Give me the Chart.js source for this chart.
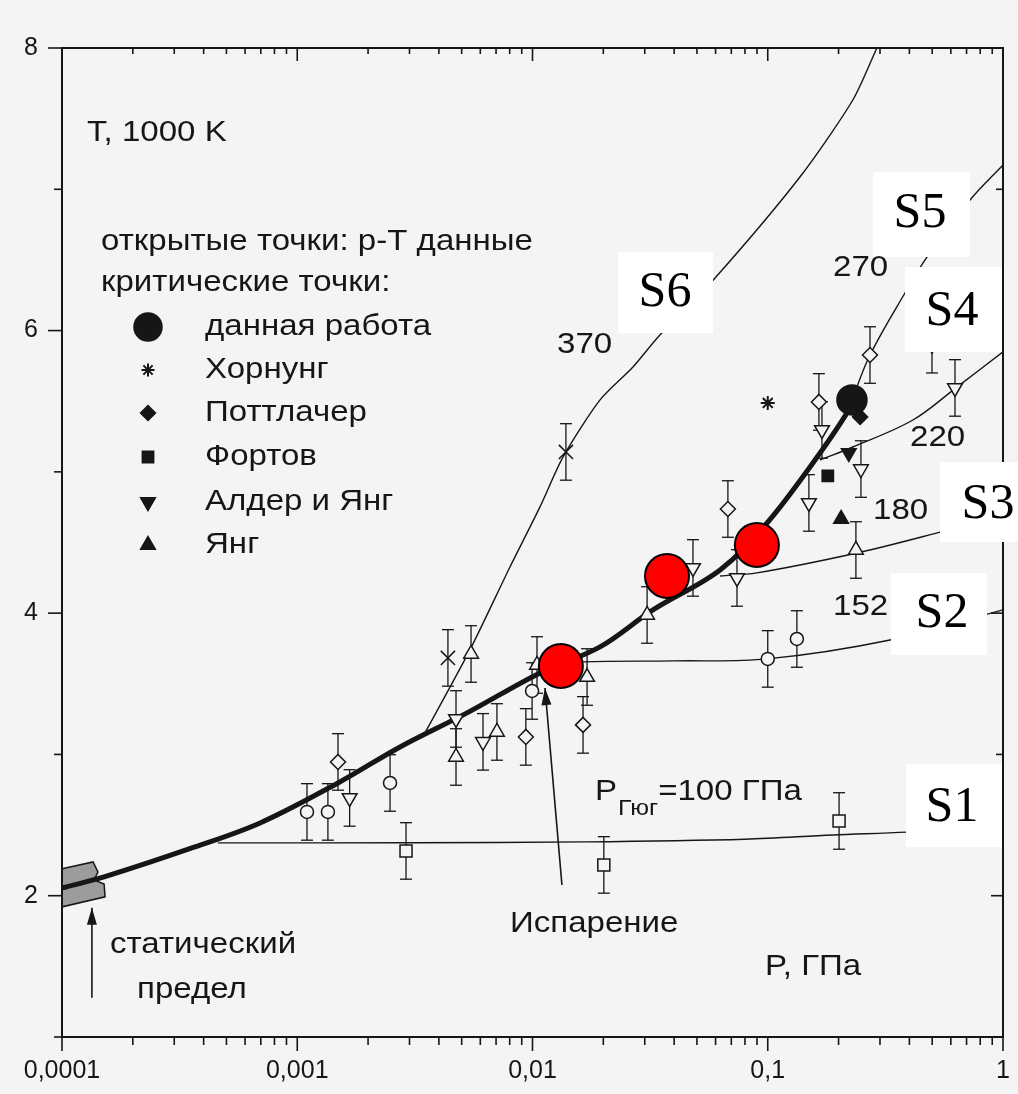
<!DOCTYPE html>
<html>
<head>
<meta charset="utf-8">
<script src="https://cdn.jsdelivr.net/npm/chart.js@4.4.1/dist/chart.umd.min.js"></script>
<style>
  html, body { margin: 0; padding: 0; background: #f4f4f4; }
  #wrap { width: 1018px; height: 1094px; }
</style>
</head>
<body>
<div id="wrap"><canvas id="chart" width="1018" height="1094"></canvas></div>
<script>
// axes
const xMajor = [0.0001, 0.001, 0.01, 0.1, 1];
const xTickLabels = ['0,0001', '0,001', '0,01', '0,1', '1'];
const yTickValues = [1, 2, 3, 4, 5, 6, 7, 8];
const yTickLabels = ['', '2', '', '4', '', '6', '', '8'];

// thick curve (binodal)
const mainP = [0.0001, 0.000151, 0.000367, 0.000695, 0.00149, 0.002735, 0.00527, 0.01076, 0.01937, 0.0325, 0.0627, 0.0993, 0.1556, 0.2173, 0.228];
const mainT = [2.055, 2.133, 2.345, 2.515, 2.798, 3.053, 3.294, 3.577, 3.761, 4.023, 4.306, 4.638, 5.063, 5.417, 5.509];

// isentropes S1..S6
const s1P = [0.00046, 0.003, 0.0166, 0.08, 0.189, 0.391, 1];
const s1T = [2.374, 2.375, 2.381, 2.40, 2.43, 2.45, 2.49];
const s2P = [0.01164, 0.0164, 0.04, 0.0993, 0.331, 1];
const s2T = [3.626, 3.655, 3.662, 3.676, 3.81, 4.023];
const s3P = [0.0627, 0.0899, 0.2393, 0.525, 1];
const s3T = [4.263, 4.285, 4.426, 4.568, 4.695];
const s4P = [0.1667, 0.230, 0.414, 0.637, 1];
const s4T = [5.084, 5.176, 5.367, 5.60, 5.849];
const s5P = [0.228, 0.272, 0.383, 0.475, 0.724, 1];
const s5T = [5.509, 5.827, 6.266, 6.52, 6.924, 7.172];
const s6P = [0.00349, 0.00542, 0.00802, 0.01076, 0.01349, 0.01937, 0.02673, 0.0342, 0.0597, 0.137, 0.230, 0.291];
const s6T = [3.152, 3.74, 4.327, 4.752, 5.106, 5.509, 5.742, 5.955, 6.372, 7.087, 7.632, 8.0];

// open points: p-T data
const circleP = [0.0011, 0.00135, 0.00248, 0.00996, 0.1, 0.133];
const circleT = [2.593, 2.593, 2.798, 3.449, 3.676, 3.817];
const squareP = [0.0029, 0.0201, 0.201];
const squareT = [2.317, 2.218, 2.529];
const triUpP = [0.00473, 0.00548, 0.00706, 0.01045, 0.01706, 0.0307, 0.237];
const triUpT = [2.982, 3.711, 3.159, 3.633, 3.548, 3.987, 4.447];
const triDownP = [0.00167, 0.00473, 0.00616, 0.0481, 0.074, 0.1496, 0.170, 0.249, 0.499, 0.625];
const triDownT = [2.692, 3.251, 3.089, 4.32, 4.249, 4.78, 5.297, 5.02, 5.90, 5.594];
const diamondP = [0.00149, 0.00937, 0.0164, 0.0677, 0.165, 0.272];
const diamondT = [2.947, 3.124, 3.209, 4.737, 5.495, 5.827];
const crossP = [0.00437, 0.01387];
const crossT = [3.683, 5.141];
const errT = 0.2;

// critical points
const thisWorkP = [0.228], thisWorkT = [5.509];
const hornungP = [0.1], hornungT = [5.488];
const pottlacherP = [0.247], pottlacherT = [5.389];
const fortovP = [0.18], fortovT = [4.971];
const alderP = [0.221], alderT = [5.134];
const youngP = [0.205], youngT = [4.667];
const redP = [0.0132, 0.0373, 0.0899];
const redT = [3.626, 4.263, 4.483];

// static limit band and arrows
const bandP = [0.0001, 0.0001355, 0.0001422, 0.0001368, 0.000151, 0.0001524, 0.0001, 0.0001];
const bandT = [2.19, 2.239, 2.168, 2.112, 2.083, 1.992, 1.921, 2.19];
const evapP = [0.01334, 0.0113], evapT = [2.076, 3.47];
const staticP = [0.000134, 0.000134], staticT = [1.277, 1.914];

const legendLabels = ['данная работа', 'Хорнунг', 'Поттлачер', 'Фортов', 'Алдер и Янг', 'Янг'];

const ink = '#161616';
const paper = '#f4f4f4';
const sans = "'Liberation Sans', Arial, sans-serif";
const serif = "'Liberation Serif', 'Times New Roman', serif";
const stretch = 1.14;

const xTickValues = [];
xMajor.forEach((d, i) => {
    if (i === xMajor.length - 1) { xTickValues.push(d); return; }
    for (let k = 1; k < 10; k++) xTickValues.push(+(d * k).toPrecision(3));
});

function pts(P, T) {
    return P.map((p, i) => ({ x: p, y: T[i] }));
}

function curve(P, T, width) {
    return {
        data: pts(P, T), showLine: true, borderColor: ink, borderWidth: width,
        pointRadius: 0, tension: 0.35, fill: false
    };
}

function marks(P, T, style, filled, radius, rotation, err) {
    return {
        data: pts(P, T), showLine: false, pointStyle: style, pointRadius: radius,
        pointRotation: rotation || 0, pointBorderWidth: 1.5,
        pointBackgroundColor: filled ? ink : paper, pointBorderColor: ink, errT: err || 0
    };
}

const datasets = [
    { data: pts(redP, redT), showLine: false, pointStyle: 'circle', pointRadius: 22,
      pointBackgroundColor: '#ff0000', pointBorderColor: '#000', pointBorderWidth: 2 },
    marks(thisWorkP, thisWorkT, 'circle', true, 15),
    marks(pottlacherP, pottlacherT, 'rectRot', true, 7.5),
    marks(fortovP, fortovT, 'rect', true, 8),
    marks(alderP, alderT, 'triangle', true, 8.5, 180),
    marks(youngP, youngT, 'triangle', true, 8.5),
    Object.assign(marks(hornungP, hornungT, 'star', false, 7), { pointBorderWidth: 2 }),
    marks(circleP, circleT, 'circle', false, 6.5, 0, errT),
    marks(squareP, squareT, 'rect', false, 8.5, 0, errT),
    marks(triUpP, triUpT, 'triangle', false, 8.5, 0, errT),
    marks(triDownP, triDownT, 'triangle', false, 8.5, 180, errT),
    marks(diamondP, diamondT, 'rectRot', false, 7.5, 0, errT),
    marks(crossP, crossT, 'crossRot', false, 10, 0, errT),
    curve(mainP, mainT, 5),
    curve(s1P, s1T, 1.4),
    curve(s2P, s2T, 1.4),
    curve(s3P, s3T, 1.4),
    curve(s4P, s4T, 1.4),
    curve(s5P, s5T, 1.4),
    Object.assign(curve(s6P, s6T, 1.4), { tension: 0.25 }),
    Object.assign(curve(evapP, evapT, 1.6), { tension: 0, arrow: true }),
    Object.assign(curve(staticP, staticT, 1.6), { tension: 0, arrow: true }),
    { data: pts(bandP, bandT), showLine: true, tension: 0, pointRadius: 0,
      borderColor: ink, borderWidth: 1.5, backgroundColor: '#9c9c9c', fill: 'shape' }
];

// annotation texts (pixel positions)
const notes = [
    { t: 'T, 1000 K', x: 87, y: 133 },
    { t: 'открытые точки: р-Т данные', x: 101, y: 242 },
    { t: 'критические точки:', x: 101, y: 283 },
    { t: '370', x: 557, y: 345 },
    { t: '270', x: 833, y: 268 },
    { t: '220', x: 910, y: 438 },
    { t: '180', x: 873, y: 511 },
    { t: '152', x: 833, y: 607 },
    { t: 'Испарение', x: 510, y: 924 },
    { t: 'статический', x: 110, y: 945 },
    { t: 'предел', x: 137, y: 990 },
    { t: 'P, ГПа', x: 765, y: 967 }
];
const legendY = [327, 370, 413, 457, 502, 545];
const legendMarks = [
    { pointStyle: 'circle', radius: 14, rotation: 0, borderWidth: 1.5 },
    { pointStyle: 'star', radius: 6.5, rotation: 0, borderWidth: 2 },
    { pointStyle: 'rectRot', radius: 7.5, rotation: 0, borderWidth: 1.5 },
    { pointStyle: 'rect', radius: 8, rotation: 0, borderWidth: 1.5 },
    { pointStyle: 'triangle', radius: 8.5, rotation: 180, borderWidth: 1.5 },
    { pointStyle: 'triangle', radius: 8.5, rotation: 0, borderWidth: 1.5 }
];
const sBoxes = [
    { t: 'S1', x0: 906, y0: 764, x1: 1002, y1: 847, tx: 952, ty: 808 },
    { t: 'S2', x0: 891, y0: 573, x1: 987, y1: 655, tx: 942, ty: 614 },
    { t: 'S3', x0: 940, y0: 462, x1: 1018, y1: 542, tx: 988, ty: 505 },
    { t: 'S4', x0: 905, y0: 267, x1: 1002, y1: 352, tx: 952, ty: 312 },
    { t: 'S5', x0: 873, y0: 172, x1: 970, y1: 257, tx: 920, ty: 214 },
    { t: 'S6', x0: 618, y0: 252, x1: 713, y1: 333, tx: 665, ty: 293 }
];

function line(ctx, x0, y0, x1, y1) {
    ctx.beginPath();
    ctx.moveTo(x0, y0);
    ctx.lineTo(x1, y1);
    ctx.stroke();
}

// scanned lettering is slightly wider than the font, so stretch it
function text(ctx, str, x, y, size) {
    ctx.save();
    ctx.font = size + 'px ' + sans;
    ctx.translate(x, y);
    ctx.scale(stretch, 1);
    ctx.fillText(str, 0, 0);
    const w = ctx.measureText(str).width * stretch;
    ctx.restore();
    return x + w;
}

const decor = {
    id: 'decor',
    beforeDraw(chart) {
        const ctx = chart.ctx;
        ctx.save();
        ctx.fillStyle = paper;
        ctx.fillRect(0, 0, chart.width, chart.height);
        ctx.restore();
    },
    beforeDatasetsDraw(chart) {
        // error bars
        const { ctx, scales: { x, y } } = chart;
        ctx.save();
        ctx.strokeStyle = ink;
        ctx.lineWidth = 1.3;
        chart.data.datasets.forEach(ds => {
            if (!ds.errT) return;
            ds.data.forEach(p => {
                const px = x.getPixelForValue(p.x);
                const top = y.getPixelForValue(p.y + ds.errT);
                const bot = y.getPixelForValue(p.y - ds.errT);
                line(ctx, px, top, px, bot);
                line(ctx, px - 6, top, px + 6, top);
                line(ctx, px - 6, bot, px + 6, bot);
            });
        });
        ctx.restore();
    },
    afterDatasetsDraw(chart) {
        const { ctx, chartArea: a, scales: { x, y } } = chart;
        ctx.save();
        ctx.strokeStyle = ink;
        ctx.fillStyle = ink;

        // arrow heads
        chart.data.datasets.forEach(ds => {
            if (!ds.arrow) return;
            const n = ds.data.length;
            const x0 = x.getPixelForValue(ds.data[n - 2].x), y0 = y.getPixelForValue(ds.data[n - 2].y);
            const x1 = x.getPixelForValue(ds.data[n - 1].x), y1 = y.getPixelForValue(ds.data[n - 1].y);
            const ang = Math.atan2(y1 - y0, x1 - x0);
            const len = 17, half = 5;
            ctx.beginPath();
            ctx.moveTo(x1, y1);
            ctx.lineTo(x1 - len * Math.cos(ang) + half * Math.sin(ang), y1 - len * Math.sin(ang) - half * Math.cos(ang));
            ctx.lineTo(x1 - len * Math.cos(ang) - half * Math.sin(ang), y1 - len * Math.sin(ang) + half * Math.cos(ang));
            ctx.closePath();
            ctx.fill();
        });

        // frame
        ctx.lineWidth = 2;
        ctx.strokeRect(a.left, a.top, a.right - a.left, a.bottom - a.top);

        // ticks: bottom/left outward, top/right inward
        ctx.lineWidth = 1.6;
        xTickValues.forEach(v => {
            const px = x.getPixelForValue(v);
            const major = xMajor.includes(v);
            line(ctx, px, a.bottom, px, a.bottom + (major ? 14 : 8));
            line(ctx, px, a.top, px, a.top + (major ? 13 : 6));
        });
        yTickValues.forEach(v => {
            const py = y.getPixelForValue(v);
            const major = v % 2 === 0;
            line(ctx, a.left - (major ? 14 : 8), py, a.left, py);
            line(ctx, a.right - (major ? 12 : 7), py, a.right, py);
        });

        // white label boxes
        sBoxes.forEach(b => {
            ctx.fillStyle = '#ffffff';
            ctx.fillRect(b.x0, b.y0, b.x1 - b.x0, b.y1 - b.y0);
            ctx.fillStyle = '#000';
            ctx.font = '50px ' + serif;
            ctx.textAlign = 'center';
            ctx.textBaseline = 'middle';
            ctx.fillText(b.t, b.tx, b.ty);
        });

        // texts
        ctx.fillStyle = ink;
        ctx.textAlign = 'left';
        ctx.textBaseline = 'middle';
        notes.forEach(n => text(ctx, n.t, n.x, n.y, 29));
        legendLabels.forEach((t, i) => text(ctx, t, 205, legendY[i], 29));

        // Hugoniot pressure label
        let cx = text(ctx, 'P', 595, 792, 29);
        cx = text(ctx, 'Гюг', cx + 1, 809, 22);
        text(ctx, '=100 ГПа', cx, 792, 29);

        // legend markers
        legendMarks.forEach((m, i) => {
            ctx.fillStyle = ink;
            ctx.strokeStyle = ink;
            ctx.lineWidth = m.borderWidth;
            Chart.helpers.drawPoint(ctx, m, 148, legendY[i]);
        });
        ctx.restore();
    }
};

new Chart(document.getElementById('chart'), {
    type: 'scatter',
    data: { datasets: datasets },
    options: {
        responsive: false,
        animation: false,
        layout: { autoPadding: false, padding: { top: 48, right: 15, left: 0, bottom: 0 } },
        plugins: { legend: { display: false }, tooltip: { enabled: false } },
        scales: {
            x: {
                type: 'logarithmic', min: 0.0001, max: 1,
                afterBuildTicks: s => { s.ticks = xTickValues.map(v => ({ value: v })); },
                afterFit: s => { s.height = 57; s.paddingLeft = 0; s.paddingRight = 0; },
                grid: { display: false, drawTicks: false },
                border: { display: false },
                ticks: {
                    autoSkip: false, maxRotation: 0, minRotation: 0, padding: 19, color: ink,
                    font: { size: 25, family: sans },
                    callback: v => { const i = xMajor.indexOf(v); return i >= 0 ? xTickLabels[i] : ''; }
                }
            },
            y: {
                type: 'linear', min: 1, max: 8,
                afterBuildTicks: s => { s.ticks = yTickValues.map(v => ({ value: v })); },
                afterFit: s => { s.width = 62; s.paddingTop = 0; s.paddingBottom = 0; },
                grid: { display: false, drawTicks: false },
                border: { display: false },
                ticks: {
                    autoSkip: false, padding: 24, color: ink,
                    font: { size: 25, family: sans },
                    callback: v => yTickLabels[yTickValues.indexOf(v)]
                }
            }
        }
    },
    plugins: [decor]
});
</script>
</body>
</html>
